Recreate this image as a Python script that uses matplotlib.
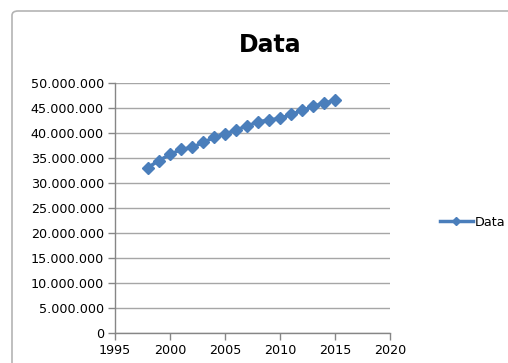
import matplotlib
matplotlib.use('Agg')
import matplotlib.pyplot as plt
from matplotlib.patches import FancyBboxPatch
from matplotlib.ticker import FuncFormatter, MultipleLocator
from matplotlib.lines import Line2D

years = list(range(1998, 2016))
values = [33.1, 34.5, 35.7, 36.7, 37.1, 38.1, 39.1, 39.8, 40.6,
          41.4, 42.2, 42.6, 42.9, 43.7, 44.5, 45.3, 46.0, 46.5]
values = [v * 1e6 for v in values]
seriesName = 'Data'

blue = '#4a7ebb'
gridGrey = '#a6a6a6'

fig = plt.figure(figsize=(5.08, 3.63), dpi=100)
fig.patch.set_facecolor('white')

# chart frame with rounded top-left corner, running off the page edges
frame = FancyBboxPatch((12 / 508, -0.2), 1.2, (363 - 11) / 363 + 0.2,
                       boxstyle='round,pad=0,rounding_size=0.012',
                       transform=fig.transFigure, facecolor='white',
                       edgecolor='#b4b4b4', linewidth=1.2, zorder=-10)
fig.patches.append(frame)

ax = fig.add_axes([115 / 508, 30 / 363, 275 / 508, 250 / 363])
ax.set_zorder(5)
ax.set_facecolor('none')
ax.plot(years, values, color=blue, linewidth=2.5, marker='D',
        markersize=6.5, markeredgecolor=blue, label=seriesName, zorder=3)

ax.set_xlim(1995, 2020)
ax.set_ylim(0, 50e6)
ax.xaxis.set_major_locator(MultipleLocator(5))
ax.yaxis.set_major_locator(MultipleLocator(5e6))
ax.yaxis.set_major_formatter(
    FuncFormatter(lambda v, p: f'{int(v):,}'.replace(',', '.')))
ax.grid(axis='y', color=gridGrey, linewidth=1)
ax.set_axisbelow(True)
for side in ('top', 'right'):
    ax.spines[side].set_visible(False)
for side in ('left', 'bottom'):
    ax.spines[side].set_color('#868686')
    ax.spines[side].set_linewidth(1)
ax.tick_params(axis='both', colors='#868686', length=5, width=1,
               labelcolor='black', labelsize=9.2, pad=3)

fig.text(270 / 508, 1 - 45 / 363, 'Data', ha='center', va='center',
         fontsize=17, fontweight='bold')

handle = Line2D([], [], color=blue, linewidth=2.5, marker='D',
                markersize=4.5)
fig.legend([handle], [seriesName], loc='center left',
           bbox_to_anchor=(428 / 508, 1 - 222 / 363), frameon=False,
           handlelength=2.6, handletextpad=0.15, fontsize=9.2)

fig.savefig('out.png', dpi=100)
